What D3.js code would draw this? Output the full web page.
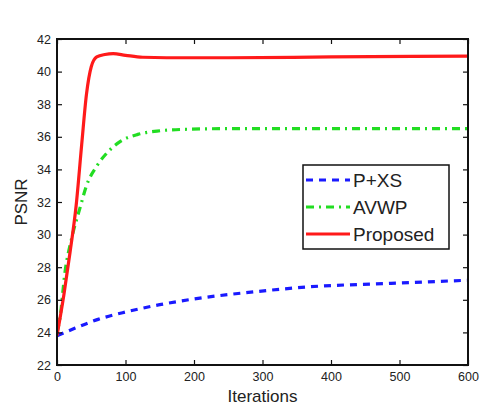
<!DOCTYPE html>
<html>
<head>
<meta charset="utf-8">
<script src="https://cdn.jsdelivr.net/npm/d3@7"></script>
<style>
body { margin: 0; background: #fff; }
text { font-family: "Liberation Sans", Arial, sans-serif; }
</style>
</head>
<body>
<script>
// data
var iterPXS = [0, 20, 60, 100, 150, 200, 290, 370, 480, 600];
var psnrPXS = [23.8, 24.15, 24.8, 25.25, 25.7, 26.05, 26.5, 26.8, 27.0, 27.2];

var iterAVWP = [0, 4, 12, 21, 34, 43, 58, 75, 92, 118, 146, 180, 250, 350, 450, 600];
var psnrAVWP = [24.0, 24.8, 27.8, 29.7, 31.7, 33.0, 34.2, 35.1, 35.7, 36.15, 36.35, 36.45, 36.5, 36.5, 36.5, 36.5];

var iterProp = [0, 10, 19, 28, 36, 43, 50, 58, 70, 82, 100, 125, 160, 250, 400, 600];
var psnrProp = [23.8, 26.3, 28.9, 31.8, 35.5, 38.6, 40.3, 40.9, 41.05, 41.1, 41.0, 40.88, 40.85, 40.85, 40.9, 40.95];

var seriesNames = ["P+XS", "AVWP", "Proposed"];
var xTicks = [0, 100, 200, 300, 400, 500, 600];
var yTicks = [22, 24, 26, 28, 30, 32, 34, 36, 38, 40, 42];

var W = 489, H = 407;
var margin = {top: 39, right: 21, bottom: 42, left: 57};
var width = W - margin.left - margin.right,
    height = H - margin.top - margin.bottom;

var svg = d3.select("body").append("svg")
  .attr("width", W)
  .attr("height", H);

var g = svg.append("g")
  .attr("transform", "translate(" + margin.left + "," + margin.top + ")");

var x = d3.scaleLinear().domain([0, 600]).range([0, width]);
var y = d3.scaleLinear().domain([22, 42]).range([height, 0]);

// clip for the curves
g.append("clipPath").attr("id", "clip")
  .append("rect").attr("width", width).attr("height", height);

var line = d3.line()
  .x(function(d) { return x(d[0]); })
  .y(function(d) { return y(d[1]); })
  .curve(d3.curveMonotoneX);

var styles = [
  {color: "#1a1aff", dash: "7,6", width: 3.2},
  {color: "#22dd22", dash: "8,5,2,5", width: 3.2},
  {color: "#ff1a1a", dash: null, width: 3.2}
];
var iters = [iterPXS, iterAVWP, iterProp];
var vals = [psnrPXS, psnrAVWP, psnrProp];

var curves = g.append("g").attr("clip-path", "url(#clip)");
iters.forEach(function(it, i) {
  var pts = it.map(function(v, j) { return [v, vals[i][j]]; });
  curves.append("path")
    .attr("d", line(pts))
    .attr("fill", "none")
    .attr("stroke", styles[i].color)
    .attr("stroke-width", styles[i].width)
    .attr("stroke-dasharray", styles[i].dash);
});

// axes, ticks inward like matlab
var tickFont = "12.5px";
var xAxis = d3.axisBottom(x).tickValues(xTicks).tickSize(-5).tickPadding(7);
var yAxis = d3.axisLeft(y).tickValues(yTicks).tickSize(-5).tickPadding(6);

var gx = g.append("g").attr("transform", "translate(0," + height + ")").call(xAxis);
var gy = g.append("g").call(yAxis);
g.append("g").call(d3.axisTop(x).tickValues(xTicks).tickSize(-5).tickFormat(""));
g.append("g").attr("transform", "translate(" + width + ",0)")
  .call(d3.axisRight(y).tickValues(yTicks).tickSize(-5).tickFormat(""));

g.selectAll(".domain").remove();
g.selectAll(".tick line").attr("stroke", "#111").attr("stroke-width", 1.2);
[gx, gy].forEach(function(a) {
  a.selectAll("text").style("font-size", tickFont).attr("fill", "#222");
});

g.append("rect")
  .attr("width", width).attr("height", height)
  .attr("fill", "none").attr("stroke", "#111").attr("stroke-width", 2);

// axis labels
svg.append("text")
  .attr("x", margin.left + width / 2)
  .attr("y", 402)
  .attr("text-anchor", "middle")
  .style("font-size", "17px")
  .attr("fill", "#222")
  .text("Iterations");

svg.append("text")
  .attr("transform", "translate(27," + (margin.top + height / 2) + ") rotate(-90)")
  .attr("text-anchor", "middle")
  .style("font-size", "17px")
  .attr("fill", "#222")
  .text("PSNR");

// legend
var lg = svg.append("g").attr("transform", "translate(303,165)");
lg.append("rect")
  .attr("width", 146).attr("height", 84)
  .attr("fill", "#fff").attr("stroke", "#111").attr("stroke-width", 1.5);

seriesNames.forEach(function(name, i) {
  var yy = 15 + i * 27;
  lg.append("line")
    .attr("x1", 3).attr("x2", 47)
    .attr("y1", yy).attr("y2", yy)
    .attr("stroke", styles[i].color)
    .attr("stroke-width", styles[i].width)
    .attr("stroke-dasharray", styles[i].dash);
  lg.append("text")
    .attr("x", 50).attr("y", yy + 7)
    .style("font-size", "19px")
    .attr("fill", "#222")
    .text(name);
});
</script>
</body>
</html>
